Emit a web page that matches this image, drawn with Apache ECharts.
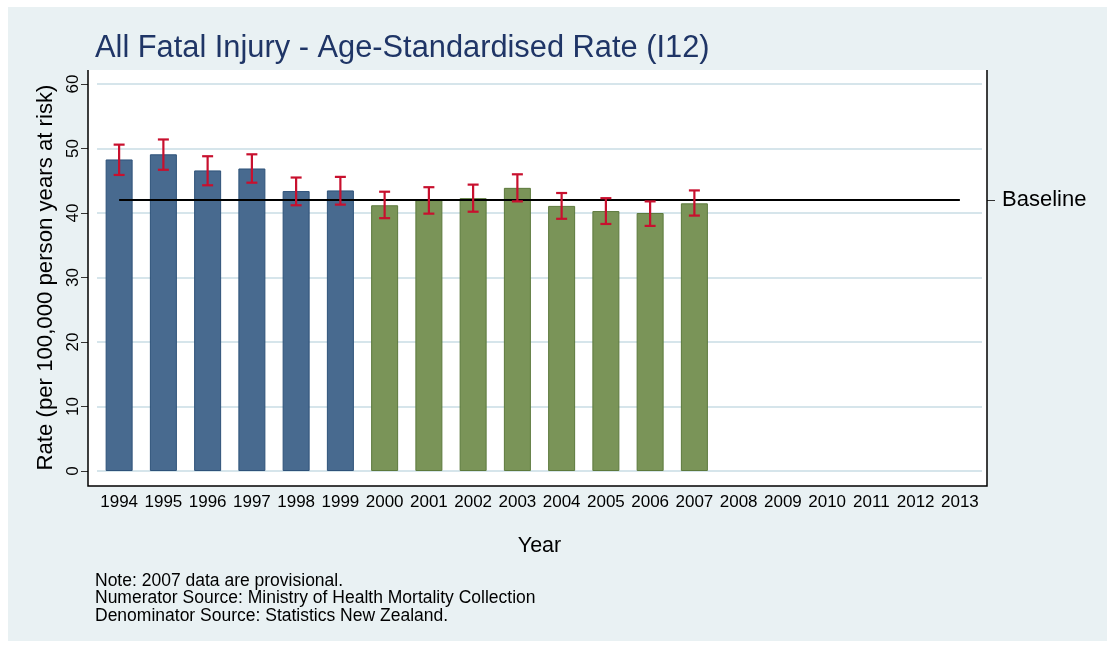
<!DOCTYPE html>
<html>
<head>
<meta charset="utf-8">
<script src="https://cdn.jsdelivr.net/npm/echarts@6/dist/echarts.min.js"></script>
<style>
  html, body { margin: 0; padding: 0; background: #fff; }
  #chart { width: 1114px; height: 648px; }
</style>
</head>
<body>
<div id="chart"></div>
<script>
    // data
    var years = ['1994', '1995', '1996', '1997', '1998', '1999', '2000', '2001', '2002', '2003',
                 '2004', '2005', '2006', '2007', '2008', '2009', '2010', '2011', '2012', '2013'];
    var rates = [48.3, 49.1, 46.6, 46.9, 43.4, 43.5, 41.2, 42.0, 42.3, 43.9, 41.1, 40.3, 40.0, 41.5];
    var upper = [50.6, 51.4, 48.8, 49.1, 45.5, 45.6, 43.3, 44.0, 44.4, 46.0, 43.1, 42.3, 41.8, 43.5];
    var lower = [45.9, 46.7, 44.3, 44.7, 41.2, 41.3, 39.2, 39.9, 40.2, 41.8, 39.1, 38.3, 38.0, 39.6];
    var baselineRate = 42;
    var firstNewYear = '2000'; // bars from this year on are green
    var notes = ['Note: 2007 data are provisional.',
                 'Numerator Source: Ministry of Health Mortality Collection',
                 'Denominator Source: Statistics New Zealand.'];

    var blue = '#486A8F', blueEdge = '#2E5279';
    var green = '#7A9458', greenEdge = '#5C793C';
    var red = '#C8102E';
    var font = 'Liberation Sans, Arial, sans-serif';

    var barData = rates.map(function (v, i) {
        var isNew = +years[i] >= +firstNewYear;
        return {
            value: v,
            itemStyle: { color: isNew ? green : blue, borderColor: isNew ? greenEdge : blueEdge, borderWidth: 1 }
        };
    });
    var errData = rates.map(function (v, i) { return [i, lower[i], upper[i]]; });
    var baseData = years.map(function () { return baselineRate; });

    var myChart = echarts.init(document.getElementById('chart'));
    myChart.setOption({
        animation: false,
        textStyle: { fontFamily: font },
        graphic: [
            // outer panel
            { type: 'rect', z: -100, shape: { x: 8, y: 7, width: 1099, height: 634 }, style: { fill: '#E9F1F3' } },
            // plot region
            { type: 'rect', z: -90, shape: { x: 88, y: 70, width: 899, height: 416 }, style: { fill: '#fff' } },
            { type: 'polyline', z: 100, shape: { points: [[88, 70], [88, 486], [987, 486], [987, 70]] },
              style: { stroke: '#000', lineWidth: 1.5, fill: null } },
            { type: 'text', left: 95, top: 572, z: 100,
              style: { text: notes.join('\n'), font: '17.5px ' + font, lineHeight: 17.5, fill: '#000' } }
        ],
        title: {
            text: 'All Fatal Injury - Age-Standardised Rate (I12)',
            left: 90, top: 28,
            textStyle: { fontSize: 30.8, fontWeight: 'normal', color: '#1F3566', fontFamily: font }
        },
        grid: { left: 97, right: 132, top: 84, bottom: 177 },
        xAxis: {
            type: 'category',
            data: years,
            offset: 16,
            axisLine: { show: false },
            axisTick: { alignWithLabel: true, length: 8, lineStyle: { color: '#333' } },
            axisLabel: { fontSize: 17, color: '#000', margin: 7, interval: 0 },
            name: 'Year',
            nameLocation: 'middle',
            nameGap: 48,
            nameTextStyle: { fontSize: 21.5, color: '#000' }
        },
        yAxis: [{
            type: 'value',
            min: 0, max: 60, interval: 10,
            offset: 9,
            axisLine: { show: false },
            axisTick: { show: true, length: 7, lineStyle: { color: '#333' } },
            axisLabel: { fontSize: 17, color: '#000', rotate: 90, margin: 6 },
            splitLine: { lineStyle: { color: '#D6E5EB', width: 2 } },
            name: 'Rate (per 100,000 person years at risk)',
            nameLocation: 'middle',
            nameGap: 28,
            nameTextStyle: { fontSize: 22.2, color: '#000' }
        }, {
            type: 'value',
            position: 'right',
            min: 0, max: 60,
            offset: 5,
            axisLine: { show: false },
            splitLine: { show: false },
            axisTick: { show: true, length: 8, customValues: [baselineRate], lineStyle: { color: '#333' } },
            axisLabel: { show: true, customValues: [baselineRate], fontSize: 22, color: '#000', margin: 15,
                         formatter: function () { return 'Baseline'; } }
        }],
        series: [{
            type: 'bar',
            data: barData,
            barWidth: 27
        }, {
            type: 'custom',
            data: errData,
            z: 5,
            renderItem: function (params, api) {
                var x = api.value(0);
                var lo = api.coord([x, api.value(1)]);
                var hi = api.coord([x, api.value(2)]);
                var half = 5.5;
                var st = { stroke: red, lineWidth: 2.2 };
                return {
                    type: 'group',
                    children: [
                        { type: 'line', shape: { x1: lo[0], y1: lo[1], x2: hi[0], y2: hi[1] }, style: st },
                        { type: 'line', shape: { x1: lo[0] - half, y1: lo[1], x2: lo[0] + half, y2: lo[1] }, style: st },
                        { type: 'line', shape: { x1: hi[0] - half, y1: hi[1], x2: hi[0] + half, y2: hi[1] }, style: st }
                    ]
                };
            }
        }, {
            type: 'line',
            data: baseData,
            symbol: 'none',
            z: 4,
            lineStyle: { color: '#000', width: 2 }
        }]
    });
</script>
</body>
</html>
